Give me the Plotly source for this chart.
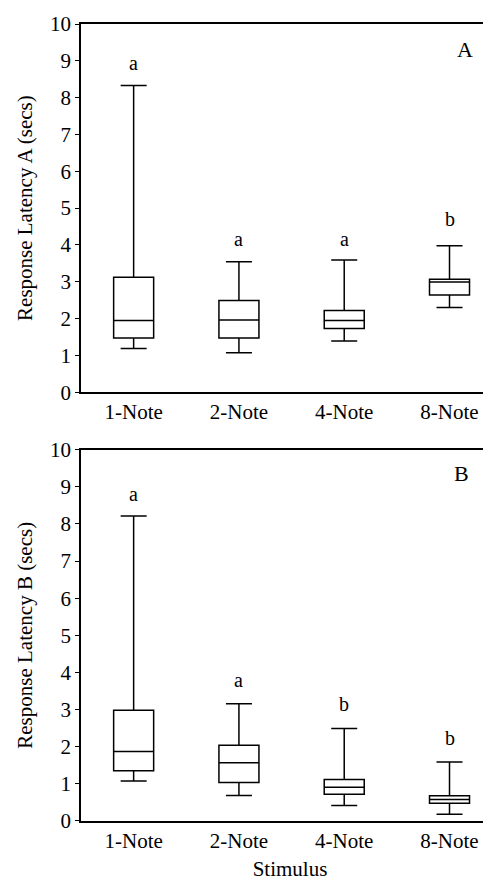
import plotly.graph_objects as go

categories = ["1-Note", "2-Note", "4-Note", "8-Note"]

# Panel A
a_low = [1.19, 1.07, 1.39, 2.30]
a_q1 = [1.47, 1.47, 1.73, 2.64]
a_med = [1.95, 1.96, 1.95, 2.99]
a_q3 = [3.12, 2.49, 2.22, 3.07]
a_high = [8.33, 3.54, 3.59, 3.98]
a_letters = ["a", "a", "a", "b"]
a_letter_y = [8.94, 4.16, 4.16, 4.70]

# Panel B
b_low = [1.08, 0.69, 0.42, 0.18]
b_q1 = [1.35, 1.04, 0.72, 0.48]
b_med = [1.87, 1.57, 0.91, 0.58]
b_q3 = [2.98, 2.04, 1.12, 0.68]
b_high = [8.21, 3.16, 2.49, 1.59]
b_letters = ["a", "a", "b", "b"]
b_letter_y = [8.81, 3.79, 3.16, 2.24]

y_ticks = list(range(0, 11))

FONT = "Liberation Serif"

fig = go.Figure()

def add_box(low, q1, med, q3, high, xa, ya):
    fig.add_trace(go.Box(
        x=categories, lowerfence=low, q1=q1, median=med, q3=q3, upperfence=high,
        xaxis=xa, yaxis=ya, width=0.38, whiskerwidth=0.65,
        fillcolor="white", line=dict(color="black", width=1.5),
        boxpoints=False, showlegend=False, hoverinfo="skip",
    ))

add_box(a_low, a_q1, a_med, a_q3, a_high, "x", "y")
add_box(b_low, b_q1, b_med, b_q3, b_high, "x2", "y2")

annotations = []
for c, t, yv in zip(categories, a_letters, a_letter_y):
    annotations.append(dict(x=c, y=yv, xref="x", yref="y", text=t, showarrow=False,
                            font=dict(family=FONT, size=20, color="black")))
for c, t, yv in zip(categories, b_letters, b_letter_y):
    annotations.append(dict(x=c, y=yv, xref="x2", yref="y2", text=t, showarrow=False,
                            font=dict(family=FONT, size=20, color="black")))
annotations.append(dict(x=3.15, y=9.3, xref="x", yref="y", text="A", showarrow=False,
                        font=dict(family=FONT, size=22, color="black")))
annotations.append(dict(x=3.11, y=9.35, xref="x2", yref="y2", text="B", showarrow=False,
                        font=dict(family=FONT, size=22, color="black")))

xcommon = dict(type="category", range=[-0.5, 3.47], showline=True, linecolor="black",
               linewidth=1.5, mirror=True, ticks="", showgrid=False, zeroline=False,
               tickfont=dict(family=FONT, size=21, color="black"))
ycommon = dict(range=[0, 10], tickvals=y_ticks, showline=True, linecolor="black",
               linewidth=1.5, ticks="outside", ticklen=4, tickcolor="black",
               showgrid=False, zeroline=False,
               tickfont=dict(family=FONT, size=21, color="black"))

fig.update_layout(
    width=491, height=881,
    margin=dict(l=73, r=0, t=16, b=68),
    paper_bgcolor="white", plot_bgcolor="white",
    font=dict(family=FONT, color="black"),
    xaxis=dict(**xcommon, anchor="y"),
    yaxis=dict(**ycommon, domain=[0.538, 1.0], anchor="x",
               title=dict(text="Response Latency A (secs)", standoff=12,
                          font=dict(family=FONT, size=21, color="black"))),
    xaxis2=dict(**xcommon, anchor="y2",
                title=dict(text="Stimulus", standoff=9,
                           font=dict(family=FONT, size=21, color="black"))),
    yaxis2=dict(**ycommon, domain=[0.0, 0.466], anchor="x2",
                title=dict(text="Response Latency B (secs)", standoff=12,
                           font=dict(family=FONT, size=21, color="black"))),
    annotations=annotations,
)

fig.write_html("out.html")
